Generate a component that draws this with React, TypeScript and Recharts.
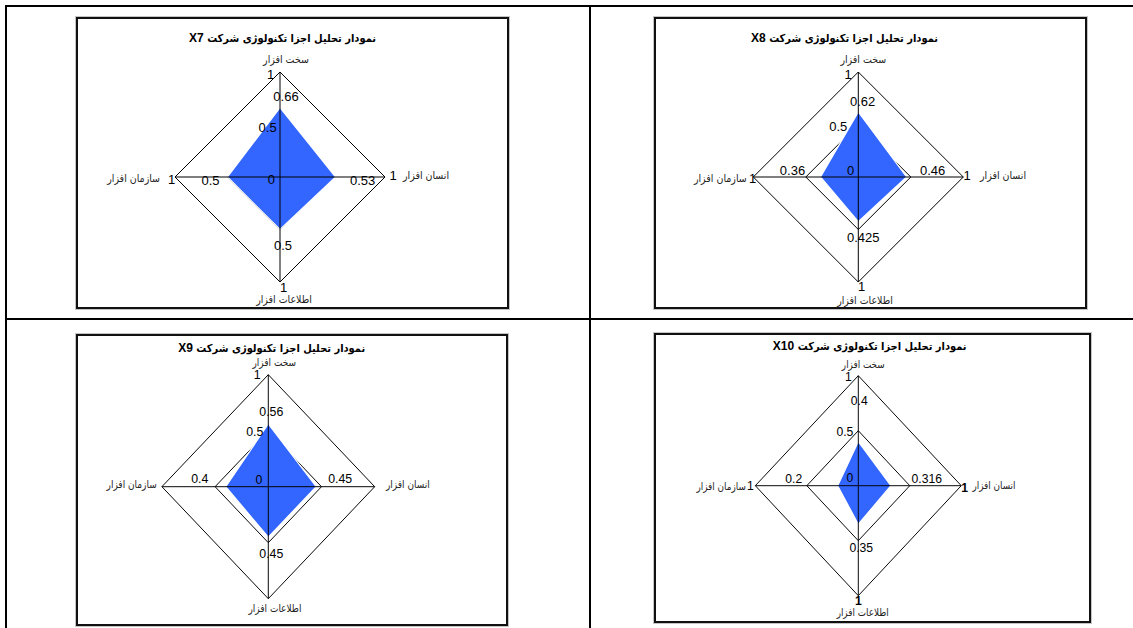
import { LabelList, PolarAngleAxis, PolarGrid, PolarRadiusAxis, Radar, RadarChart } from "recharts";

// Four technology components, clockwise from the top.
const categories = ["سخت افزار", "انسان افزار", "اطلاعات افزار", "سازمان افزار"];
const radiusTicks = [0, 0.5, 1];

const x7Values = [0.66, 0.53, 0.5, 0.5];
const x8Values = [0.62, 0.46, 0.425, 0.36];
const x9Values = [0.56, 0.45, 0.45, 0.4];
const x10Values = [0.4, 0.316, 0.35, 0.2];

// Whether the scale maximum ("1") is printed at the end of each spoke (top is the axis label).
const x7ScaleMarks = [false, true, true, true];
const x8ScaleMarks = [false, true, true, true];
const x9ScaleMarks = [false, false, false, false];
const x10ScaleMarks = [false, true, true, true];

const titlePrefix = "نمودار تحلیل اجزا تکنولوژی شرکت";

const NUM_FONT = "'Liberation Sans', Arial, sans-serif";
const FA_FONT = "'DejaVu Sans Condensed', 'DejaVu Sans', sans-serif";
const BLUE = "#3366ff";

type Off = [number, number];
type Panel = {
  company: string;
  values: number[];
  scaleMarks: boolean[];
  boldMarks: boolean[];
  box: { left: number; top: number; width: number; height: number };
  cx: number;
  cy: number;
  r: number;
  sx: number;
  title: { x: number; y: number };
  labelOff: Off[];
  tickOff: Off[]; // for 0, 0.5, 1
  catOff: Off[]; // relative to a point 8px beyond each spoke end
  markOff: Off[];
};

const panels: Panel[] = [
  {
    company: "X7",
    values: x7Values,
    scaleMarks: x7ScaleMarks,
    boldMarks: [false, false, false, false],
    box: { left: 76, top: 17, width: 433, height: 292 },
    cx: 280, cy: 177, r: 105, sx: 1,
    title: { x: 282.5, y: 38 },
    labelOff: [[6, -11], [27, 3], [3, 16], [-17, 3]],
    tickOff: [[-5, 2.3], [-3.3, 2.5], [-5.7, 2.6]],
    catOff: [[6, -5.4], [10, -2], [4, 9.3], [-7, 1.3]],
    markOff: [[0, 0], [0, -2], [3.5, -2.4], [4.5, 2]],
  },
  {
    company: "X8",
    values: x8Values,
    scaleMarks: x8ScaleMarks,
    boldMarks: [false, false, false, false],
    box: { left: 654, top: 17, width: 433, height: 292 },
    cx: 858.3, cy: 177, r: 105, sx: 1,
    title: { x: 844.5, y: 37.7 },
    labelOff: [[4.4, -10.6], [26, -7], [5, 16], [-28, -7]],
    tickOff: [[-4, -6.7], [-11, 1.8], [-6.6, 2.6]],
    catOff: [[5, -5.4], [8.7, -1.7], [6.7, 9.6], [1.4, 1.3]],
    markOff: [[0, 0], [-4.3, -2], [3.4, -4], [7.2, 1.6]],
  },
  {
    company: "X9",
    values: x9Values,
    scaleMarks: x9ScaleMarks,
    boldMarks: [false, false, false, false],
    box: { left: 76, top: 334, width: 432, height: 292 },
    cx: 268.3, cy: 486.7, r: 112, sx: 0.95,
    title: { x: 271.7, y: 347.7 },
    labelOff: [[3, -12], [24, -8], [3, 17], [-26, -8]],
    tickOff: [[-6, -6.7], [-5, 1.6], [-7.6, 0]],
    catOff: [[6, -5], [3.7, -2.4], [6.7, 1.6], [2.4, -2.4]],
    markOff: [[0, 0], [0, 0], [0, 0], [0, 0]],
  },
  {
    company: "X10",
    values: x10Values,
    scaleMarks: x10ScaleMarks,
    boldMarks: [false, true, true, false],
    box: { left: 654, top: 333, width: 437, height: 290 },
    cx: 858.3, cy: 485.7, r: 110, sx: 0.936,
    title: { x: 869.7, y: 345.7 },
    labelOff: [[1, -41], [36, -7], [3, 24], [-44, -7]],
    tickOff: [[-5, -7.4], [-5, 1.6], [-6.6, 1]],
    catOff: [[5, -3.4], [3.7, 0], [4.4, 9], [-2, 1]],
    markOff: [[0, 0], [-4, 2.6], [0, -2.4], [2.5, 0]],
  },
];

function RadarPanel({ p }: { p: Panel }) {
  const data = categories.map((c, i) => ({ axis: c, value: p.values[i] }));
  const { box, sx } = p;
  const cx = p.cx - box.left;
  const cy = p.cy - box.top;

  // Angle-axis ticks sit at the centre (inner tick lines of full radius form the cross),
  // so labels are pushed back out along the spoke's angle.
  const renderCategory = (props: any) => {
    const i = props.index;
    const a = ((props.payload.coordinate ?? 90) * Math.PI) / 180;
    const bx = props.x + Math.cos(a) * (p.r + 8);
    const by = props.y - Math.sin(a) * (p.r + 8);
    const [dx, dy] = p.catOff[i];
    const anchor = i === 1 ? "start" : i === 3 ? "end" : "middle";
    const [mx, my] = p.markOff[i];
    return (
      <g key={`cat-${i}`}>
        <text x={bx + dx / sx} y={by + dy} textAnchor={anchor} dominantBaseline="central"
          fontSize={10.5} fontFamily={FA_FONT} fill="#222">
          {props.payload.value}
        </text>
        {p.scaleMarks[i] && (
          <text x={bx + mx / sx} y={by + my} textAnchor="middle" dominantBaseline="central"
            fontSize={13} fontFamily={NUM_FONT} fontWeight={p.boldMarks[i] ? "bold" : "normal"} fill="#000">
            {radiusTicks[radiusTicks.length - 1]}
          </text>
        )}
      </g>
    );
  };

  const renderTick = (props: any) => {
    const v = props.payload.value;
    const k = radiusTicks.indexOf(v);
    const [dx, dy] = p.tickOff[k < 0 ? 1 : k];
    return (
      <text key={`t-${v}`} x={props.x + dx / sx} y={props.y + dy} textAnchor="end" dominantBaseline="central"
        fontSize={13} fontFamily={NUM_FONT} fill="#000">
        {v}
      </text>
    );
  };

  const renderLabel = (props: any) => {
    const x = props.x ?? props.viewBox?.x;
    const y = props.y ?? props.viewBox?.y;
    const i = props.index ?? 0;
    const [dx, dy] = p.labelOff[i];
    return (
      <text key={`l-${i}`} x={x + dx / sx} y={y + dy} textAnchor="middle" dominantBaseline="central"
        fontSize={13} fontFamily={NUM_FONT} fill="#000">
        {props.value}
      </text>
    );
  };

  return (
    <>
      <div
        style={{
          position: "absolute",
          left: box.left,
          top: box.top,
          width: box.width,
          height: box.height,
          boxSizing: "border-box",
          border: "2px solid #111",
          boxShadow: "0 0 0 1px #c4c4c4",
          background: "#fff",
        }}
      />
      <div
        style={{
          position: "absolute",
          left: box.left,
          top: box.top,
          width: box.width,
          height: box.height,
          transform: `scaleX(${sx})`,
          transformOrigin: `${cx}px 50%`,
        }}
      >
        <RadarChart width={box.width} height={box.height} data={data} cx={cx} cy={cy} outerRadius={p.r}
          margin={{ top: 0, right: 0, bottom: 0, left: 0 }}>
          <PolarGrid gridType="polygon" radialLines={false} stroke="#000" strokeOpacity={1}
            polarRadius={radiusTicks.map((t) => t * p.r)} />
          <Radar dataKey="value" fill={BLUE} fillOpacity={1} stroke="#fff" strokeWidth={1.2}
            dot={false} isAnimationActive={false}>
            <LabelList dataKey="value" content={renderLabel} />
          </Radar>
          <PolarRadiusAxis angle={90} domain={[0, 1]} ticks={radiusTicks as any} tickCount={3}
            tick={renderTick} axisLine={false} />
          <PolarAngleAxis dataKey="axis" tick={renderCategory} orientation="inner" tickSize={p.r}
            tickLine={{ stroke: "#000", strokeWidth: 1 }} axisLine={false} />
        </RadarChart>
      </div>
      <div
        dir="rtl"
        style={{
          position: "absolute",
          left: p.title.x - 150,
          top: p.title.y - 8,
          width: 300,
          textAlign: "center",
          fontFamily: FA_FONT,
          fontWeight: "bold",
          fontSize: 11,
          lineHeight: "16px",
          color: "#000",
        }}
      >
        {titlePrefix} <span style={{ fontFamily: NUM_FONT, fontSize: 12 }}>{p.company}</span>
      </div>
    </>
  );
}

export default function App() {
  const line = (left: number, top: number, width: number, height: number) => (
    <div style={{ position: "absolute", left, top, width, height, background: "#000" }} />
  );
  return (
    <div
      style={{
        position: "absolute",
        left: 0,
        top: 0,
        width: 1133,
        height: 628,
        background: "#fff",
        overflow: "hidden",
      }}
    >
      {line(5, 5, 1128, 2)}
      {line(5, 5, 2, 623)}
      {line(589, 5, 2, 623)}
      {line(5, 318, 1128, 2)}
      {panels.map((p) => (
        <RadarPanel key={p.company} p={p} />
      ))}
    </div>
  );
}
